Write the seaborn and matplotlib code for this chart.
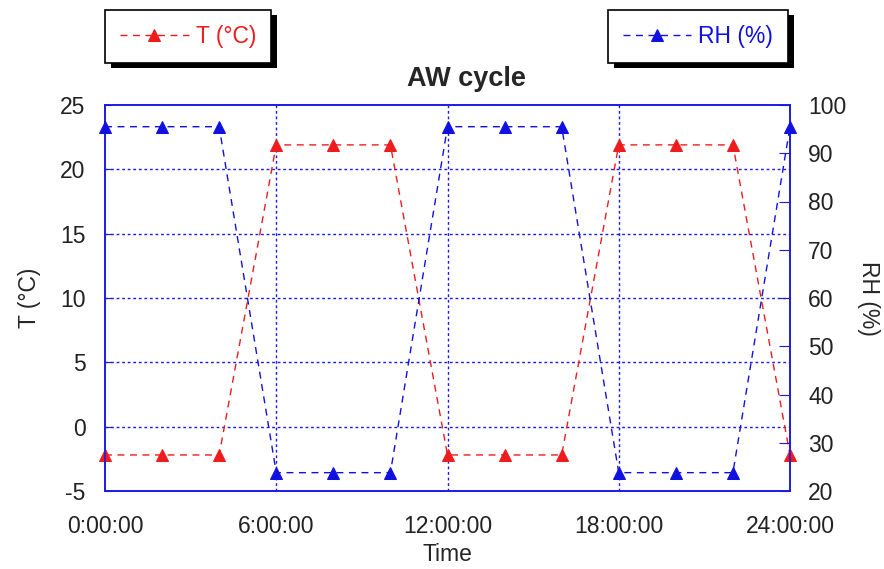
import matplotlib
matplotlib.use("Agg")
import matplotlib.pyplot as plt
import seaborn as sns
import pandas as pd
from matplotlib.ticker import MultipleLocator
from matplotlib.patches import Rectangle
from matplotlib.transforms import IdentityTransform

hours = [0, 2, 4, 6, 8, 10, 12, 14, 16, 18, 20, 22, 24]
temp_c = [-2.2, -2.2, -2.2, 21.9, 21.9, 21.9, -2.2, -2.2, -2.2, 21.9, 21.9, 21.9, -2.2]
rh_pct = [95.5, 95.5, 95.5, 23.8, 23.8, 23.8, 95.5, 95.5, 95.5, 23.8, 23.8, 23.8, 95.5]
xticks = [0, 6, 12, 18, 24]
xtick_labels = ["0:00:00", "6:00:00", "12:00:00", "18:00:00", "24:00:00"]

df = pd.DataFrame({"hours": hours, "T": temp_c, "RH": rh_pct})

sns.set_style("white")
plt.rcParams["font.family"] = ["Liberation Sans", "DejaVu Sans"]
plt.rcParams["axes.unicode_minus"] = False

RED = "#ee1c1c"
BLUE = "#1010e0"
SPINE = "#1a1ae6"
FS = 16.5

fig = plt.figure(figsize=(8.84, 5.69), dpi=100)
ax = fig.add_axes([105/884, 1-491/569, 685/884, 386/569])
ax2 = ax.twinx()

sns.lineplot(data=df, x="hours", y="T", ax=ax, color=RED, marker="^", markersize=9,
             markeredgecolor=RED, linestyle=(0, (5, 4)), linewidth=1, clip_on=False,
             label="T (°C)", legend=False, zorder=5)
sns.lineplot(data=df, x="hours", y="RH", ax=ax2, color=BLUE, marker="^", markersize=9,
             markeredgecolor=BLUE, linestyle=(0, (5, 4)), linewidth=1, clip_on=False,
             label="RH (%)", legend=False, zorder=5)

ax.set_xlim(0, 24)
ax.set_ylim(-5, 25)
ax2.set_ylim(20, 100)
ax.yaxis.set_major_locator(MultipleLocator(5))
ax2.yaxis.set_major_locator(MultipleLocator(10))
ax.set_xticks(xticks)
ax.set_xticklabels(xtick_labels)

# grid
for yv in [0, 5, 10, 15, 20]:
    ax.axhline(yv, color=SPINE, linestyle=(0, (2, 2)), linewidth=1, zorder=1)
for xv in [6, 12, 18]:
    ax.axvline(xv, color=SPINE, linestyle=(0, (2, 2)), linewidth=1, zorder=1)

for a in (ax, ax2):
    for s in a.spines.values():
        s.set_color(SPINE)
        s.set_linewidth(1.2)
        s.set_visible(True)

ax.tick_params(axis="y", direction="in", length=5, color=SPINE, labelsize=FS, labelcolor="#222222", pad=14)
ax.tick_params(axis="x", direction="in", length=7, color=SPINE, labelsize=FS, labelcolor="#222222", pad=17)
ax2.tick_params(axis="y", direction="in", length=8, color=SPINE, labelsize=FS, labelcolor="#222222", pad=13)

ax.set_xlabel("Time", fontsize=FS, labelpad=4)
ax.set_ylabel("T (°C)", fontsize=FS, labelpad=14)
ax2.set_ylabel("RH (%)", fontsize=FS, rotation=-90, labelpad=24)
ax.set_title("AW cycle", fontsize=19.5, fontweight="bold", pad=14, x=0.527)

h1, l1 = ax.get_legend_handles_labels()
h2, l2 = ax2.get_legend_handles_labels()
common = dict(fancybox=False, shadow=False, edgecolor="black", framealpha=1,
              fontsize=FS, labelcolor="linecolor", handlelength=3.0, borderpad=0.65,
              handletextpad=0.3, borderaxespad=0)
leg1 = fig.legend(h1, l1, loc="upper left", bbox_to_anchor=(105/884, 1-10/569), **common)
leg2 = fig.legend(h2, l2, loc="upper right", bbox_to_anchor=(788/884, 1-10/569), **common)
for lg in (leg1, leg2):
    lg.get_frame().set_linewidth(1.2)
    lg.set_zorder(10)

fig.canvas.draw()
for lg in (leg1, leg2):
    bb = lg.get_frame().get_window_extent()
    sh = Rectangle((bb.x0 + 6, bb.y0 - 5), bb.width, bb.height, transform=IdentityTransform(),
                   facecolor="black", edgecolor="none", zorder=9)
    fig.patches.append(sh)

fig.savefig("out.png", dpi=100)
